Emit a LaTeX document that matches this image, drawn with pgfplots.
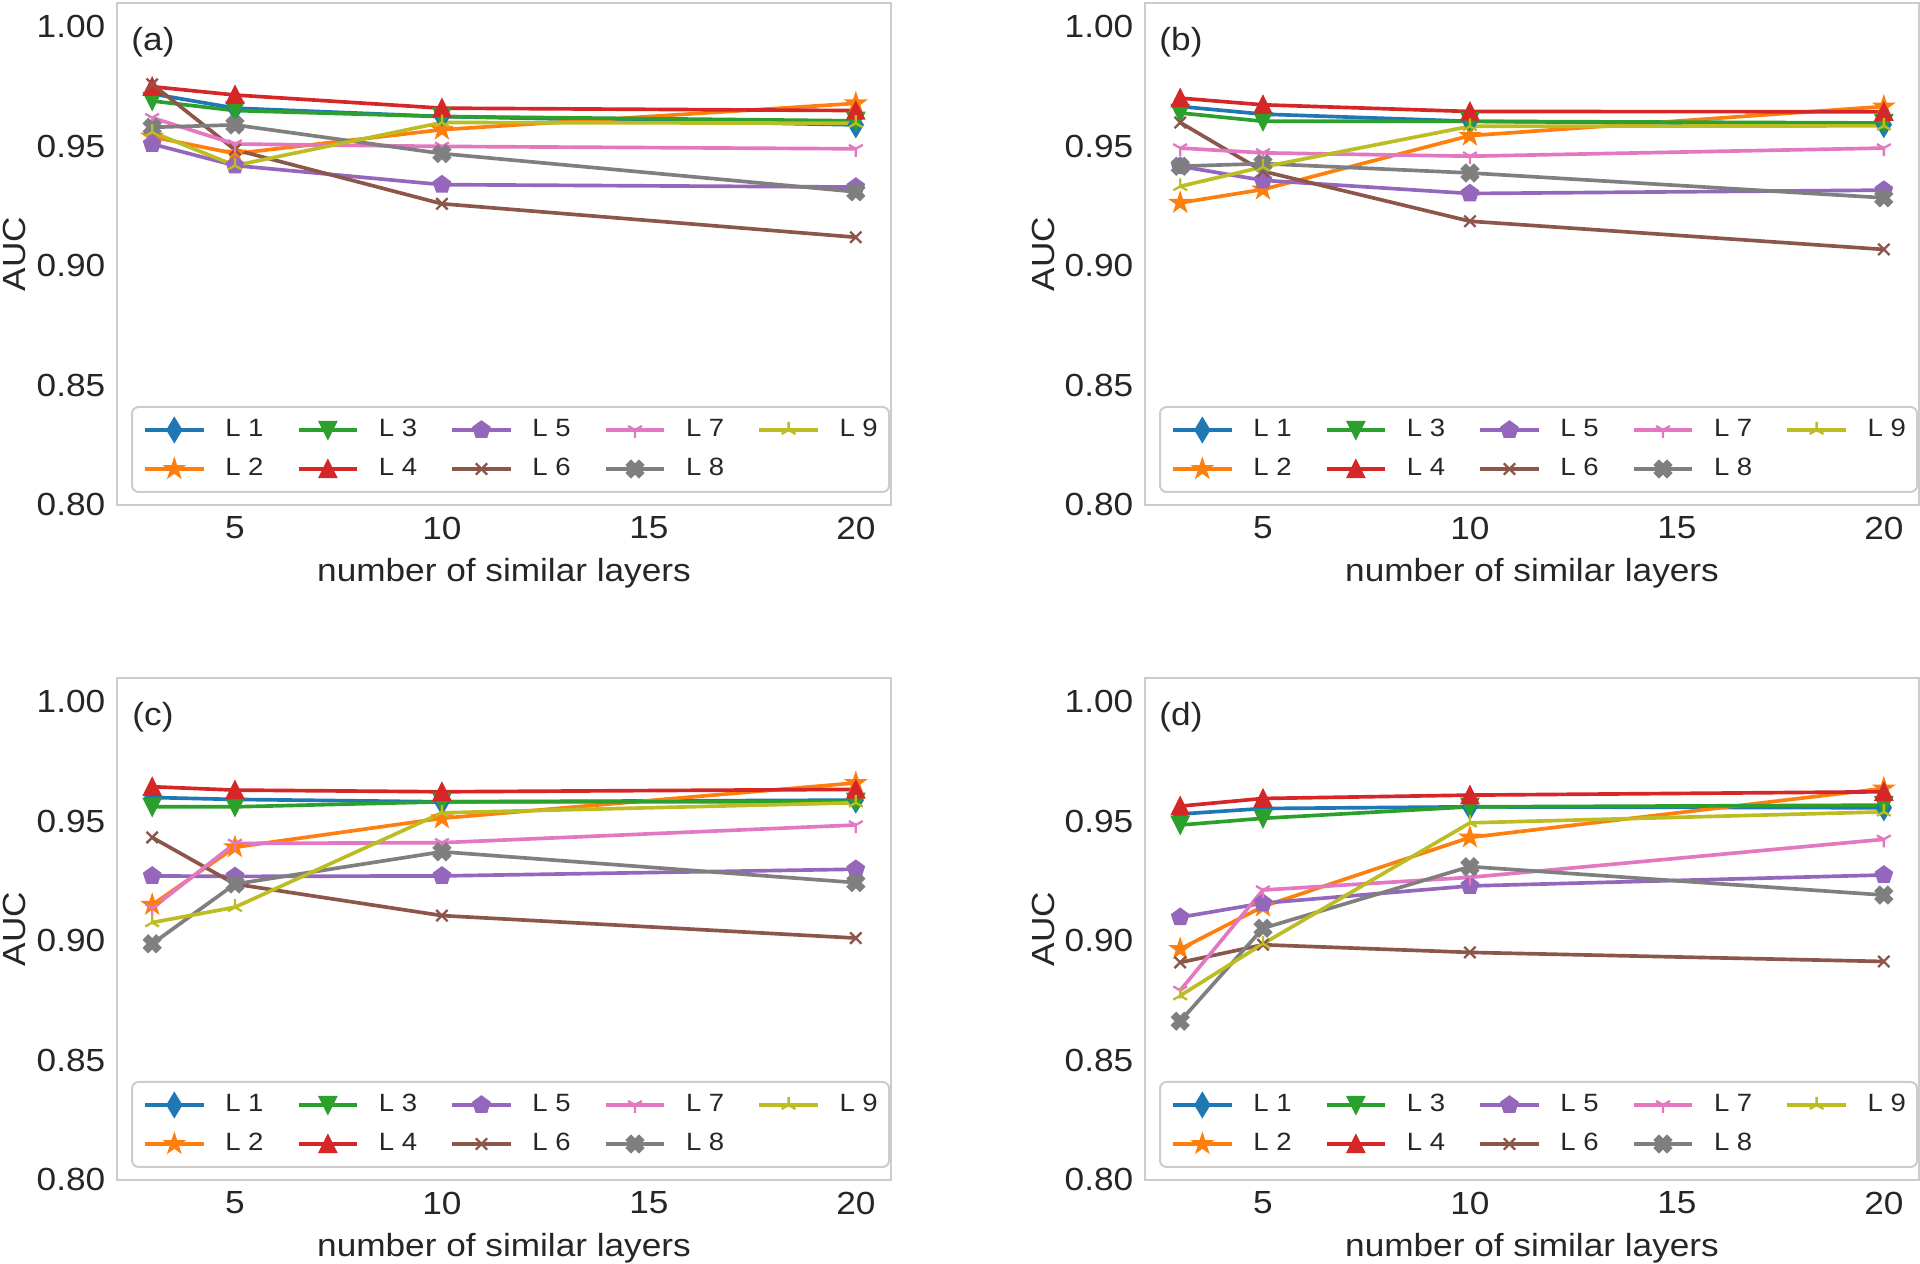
\documentclass[border=0pt]{standalone}
\usepackage{fontspec}
\setmainfont{Liberation Sans}[FakeStretch=1.1]
\usepackage{pgfplots}
\usepackage{pgfplotstable}
\pgfplotsset{compat=1.18}
\usetikzlibrary{plotmarks}

\definecolor{c1}{HTML}{1F77B4}
\definecolor{c2}{HTML}{FF7F0E}
\definecolor{c3}{HTML}{2CA02C}
\definecolor{c4}{HTML}{D62728}
\definecolor{c5}{HTML}{9467BD}
\definecolor{c6}{HTML}{8C564B}
\definecolor{c7}{HTML}{E377C2}
\definecolor{c8}{HTML}{7F7F7F}
\definecolor{c9}{HTML}{BCBD22}
\definecolor{textgray}{HTML}{262626}
\definecolor{framegray}{HTML}{CCCCCC}

% matplotlib-like markers
\pgfdeclareplotmark{mpld}{%
  \pgfpathmoveto{\pgfqpoint{0pt}{1.414\pgfplotmarksize}}%
  \pgfpathlineto{\pgfqpoint{0.85\pgfplotmarksize}{0pt}}%
  \pgfpathlineto{\pgfqpoint{0pt}{-1.414\pgfplotmarksize}}%
  \pgfpathlineto{\pgfqpoint{-0.85\pgfplotmarksize}{0pt}}%
  \pgfpathclose\pgfusepathqfillstroke}
\pgfdeclareplotmark{mplstar}{%
  \pgfpathmoveto{\pgfqpointpolar{90}{1.1\pgfplotmarksize}}%
  \pgfpathlineto{\pgfqpointpolar{126}{0.42\pgfplotmarksize}}%
  \pgfpathlineto{\pgfqpointpolar{162}{1.1\pgfplotmarksize}}%
  \pgfpathlineto{\pgfqpointpolar{198}{0.42\pgfplotmarksize}}%
  \pgfpathlineto{\pgfqpointpolar{234}{1.1\pgfplotmarksize}}%
  \pgfpathlineto{\pgfqpointpolar{270}{0.42\pgfplotmarksize}}%
  \pgfpathlineto{\pgfqpointpolar{306}{1.1\pgfplotmarksize}}%
  \pgfpathlineto{\pgfqpointpolar{342}{0.42\pgfplotmarksize}}%
  \pgfpathlineto{\pgfqpointpolar{18}{1.1\pgfplotmarksize}}%
  \pgfpathlineto{\pgfqpointpolar{54}{0.42\pgfplotmarksize}}%
  \pgfpathclose\pgfusepathqfillstroke}
\pgfdeclareplotmark{mpltriup}{%
  \pgfpathmoveto{\pgfqpoint{0pt}{\pgfplotmarksize}}%
  \pgfpathlineto{\pgfqpoint{-\pgfplotmarksize}{-\pgfplotmarksize}}%
  \pgfpathlineto{\pgfqpoint{\pgfplotmarksize}{-\pgfplotmarksize}}%
  \pgfpathclose\pgfusepathqfillstroke}
\pgfdeclareplotmark{mpltridown}{%
  \pgfpathmoveto{\pgfqpoint{0pt}{-\pgfplotmarksize}}%
  \pgfpathlineto{\pgfqpoint{-\pgfplotmarksize}{\pgfplotmarksize}}%
  \pgfpathlineto{\pgfqpoint{\pgfplotmarksize}{\pgfplotmarksize}}%
  \pgfpathclose\pgfusepathqfillstroke}
\pgfdeclareplotmark{mplpent}{%
  \pgfpathmoveto{\pgfqpointpolar{90}{1.05\pgfplotmarksize}}%
  \pgfpathlineto{\pgfqpointpolar{162}{1.05\pgfplotmarksize}}%
  \pgfpathlineto{\pgfqpointpolar{234}{1.05\pgfplotmarksize}}%
  \pgfpathlineto{\pgfqpointpolar{306}{1.05\pgfplotmarksize}}%
  \pgfpathlineto{\pgfqpointpolar{18}{1.05\pgfplotmarksize}}%
  \pgfpathclose\pgfusepathqfillstroke}
\pgfdeclareplotmark{mplX}{%
  \pgfpathmoveto{\pgfqpoint{-0.5\pgfplotmarksize}{-\pgfplotmarksize}}%
  \pgfpathlineto{\pgfqpoint{0pt}{-0.5\pgfplotmarksize}}%
  \pgfpathlineto{\pgfqpoint{0.5\pgfplotmarksize}{-\pgfplotmarksize}}%
  \pgfpathlineto{\pgfqpoint{\pgfplotmarksize}{-0.5\pgfplotmarksize}}%
  \pgfpathlineto{\pgfqpoint{0.5\pgfplotmarksize}{0pt}}%
  \pgfpathlineto{\pgfqpoint{\pgfplotmarksize}{0.5\pgfplotmarksize}}%
  \pgfpathlineto{\pgfqpoint{0.5\pgfplotmarksize}{\pgfplotmarksize}}%
  \pgfpathlineto{\pgfqpoint{0pt}{0.5\pgfplotmarksize}}%
  \pgfpathlineto{\pgfqpoint{-0.5\pgfplotmarksize}{\pgfplotmarksize}}%
  \pgfpathlineto{\pgfqpoint{-\pgfplotmarksize}{0.5\pgfplotmarksize}}%
  \pgfpathlineto{\pgfqpoint{-0.5\pgfplotmarksize}{0pt}}%
  \pgfpathlineto{\pgfqpoint{-\pgfplotmarksize}{-0.5\pgfplotmarksize}}%
  \pgfpathclose\pgfusepathqfillstroke}

% data: x, L1..L9
\pgfplotstableread{
x L1 L2 L3 L4 L5 L6 L7 L8 L9
3 0.972 0.954 0.969 0.975 0.951 0.976 0.962 0.958 0.956
5 0.966 0.947 0.965 0.9715 0.942 0.9486 0.951 0.959 0.942
10 0.9625 0.957 0.9625 0.966 0.934 0.926 0.950 0.947 0.960
20 0.959 0.968 0.9607 0.965 0.933 0.912 0.949 0.931 0.9597
}\tabA
\pgfplotstableread{
x L1 L2 L3 L4 L5 L6 L7 L8 L9
3 0.9667 0.9264 0.964 0.9702 0.9417 0.960 0.9493 0.9417 0.9333
5 0.9635 0.932 0.9605 0.9674 0.9358 0.9396 0.9473 0.9428 0.9414
10 0.9605 0.9545 0.9605 0.9646 0.9303 0.9187 0.9459 0.9389 0.9584
20 0.9591 0.9667 0.9598 0.9645 0.9317 0.9069 0.9493 0.9285 0.9586
}\tabB
\pgfplotstableread{
x L1 L2 L3 L4 L5 L6 L7 L8 L9
3 0.960 0.9151 0.9561 0.9645 0.9272 0.9433 0.9137 0.8988 0.9077
5 0.9592 0.9392 0.9561 0.9631 0.927 0.9238 0.9408 0.9238 0.9141
10 0.9582 0.9513 0.9582 0.9624 0.9272 0.9106 0.9411 0.9373 0.9536
20 0.9589 0.9661 0.9582 0.9634 0.930 0.9012 0.9485 0.9244 0.9578
}\tabC
\pgfplotstableread{
x L1 L2 L3 L4 L5 L6 L7 L8 L9
3 0.9531 0.8966 0.9485 0.9564 0.9099 0.891 0.8793 0.8664 0.8771
5 0.9554 0.9144 0.9513 0.9596 0.9158 0.8984 0.9213 0.9053 0.8988
10 0.9561 0.9433 0.9561 0.961 0.923 0.8952 0.9266 0.9311 0.9494
20 0.9557 0.9638 0.9568 0.9624 0.9276 0.8914 0.9425 0.9192 0.954
}\tabD

\newcommand\ticksize{\fontsize{9.6}{11}\selectfont}
\newcommand\legsize{\fontsize{7.5}{8.5}\selectfont}

\pgfplotsset{
  s1/.style={color=c1, mark=mpld},
  s2/.style={color=c2, mark=mplstar},
  s3/.style={color=c3, mark=mpltridown},
  s4/.style={color=c4, mark=mpltriup},
  s5/.style={color=c5, mark=mplpent},
  s6/.style={color=c6, mark=x},
  s7/.style={color=c7, mark=Mercedes star flipped},
  s8/.style={color=c8, mark=mplX},
  s9/.style={color=c9, mark=Mercedes star},
  panel/.style={
    scale only axis, width=232.2pt, height=150.6pt,
    anchor=south west,
    xmin=2.15, xmax=20.85, ymin=0.80, ymax=1.010,
    xtick={5,10,15,20}, ytick={0.80,0.85,0.90,0.95,1.00},
    yticklabel style={/pgf/number format/.cd, fixed, fixed zerofill, precision=2},
    /pgf/number format/assume math mode=true,
    major tick length=0pt,
    axis line style={draw=framegray, line width=0.85pt},
    tick label style={font=\ticksize, text=textgray},
    xlabel={number of similar layers}, ylabel={AUC},
    label style={font=\ticksize, text=textgray},
    x label style={at={(axis description cs:0.5,0)}, anchor=north, inner sep=0pt, yshift=-15.8pt},
    y label style={at={(axis description cs:-0.1318,0.5)}, anchor=center, inner sep=0pt},
    every axis plot/.append style={line width=1.1pt, mark size=2.4pt, mark options={solid, line width=0.7pt}},
    legend columns=5,
    legend cell align=left,
    legend image code/.code={\draw[mark repeat=2,mark phase=2] plot coordinates {(0pt,0pt)(8.75pt,0pt)(17.5pt,0pt)};},
    legend style={at={(axis description cs:0.0181,0.0239)}, anchor=south west,
      draw=framegray, fill=white, rounded corners=2pt, line width=0.6pt,
      font=\legsize, text=textgray, inner sep=3.4pt, row sep=4.7pt, column sep=6pt,
      /tikz/every even column/.append style={column sep=10pt},
      nodes={inner sep=0pt, text height=5.5pt, text depth=1.5pt}},
  },
}

\newcommand\drawpanel[4]{%
\begin{axis}[panel, at={(#3)}]
  \addplot[s1, forget plot] table[x=x, y=L1] {#1};
  \addplot[s2, forget plot] table[x=x, y=L2] {#1};
  \addplot[s3, forget plot] table[x=x, y=L3] {#1};
  \addplot[s4, forget plot] table[x=x, y=L4] {#1};
  \addplot[s5, forget plot] table[x=x, y=L5] {#1};
  \addplot[s6, forget plot] table[x=x, y=L6] {#1};
  \addplot[s7, forget plot] table[x=x, y=L7] {#1};
  \addplot[s8, forget plot] table[x=x, y=L8] {#1};
  \addplot[s9, forget plot] table[x=x, y=L9] {#1};
  \addlegendimage{s1}\addlegendentry{L 1}
  \addlegendimage{s3}\addlegendentry{L 3}
  \addlegendimage{s5}\addlegendentry{L 5}
  \addlegendimage{s7}\addlegendentry{L 7}
  \addlegendimage{s9}\addlegendentry{L 9}
  \addlegendimage{s2}\addlegendentry{L 2}
  \addlegendimage{s4}\addlegendentry{L 4}
  \addlegendimage{s6}\addlegendentry{L 6}
  \addlegendimage{s8}\addlegendentry{L 8}
  \node[font=\ticksize, text=textgray, inner sep=0pt] at (rel axis cs:0.0465,0.9223) {#2};
\end{axis}}

\begin{document}
\begin{tikzpicture}
\useasboundingbox (0,0) rectangle (576pt,379.2pt);
\drawpanel{\tabA}{(a)}{35.1pt,227.7pt}{}
\drawpanel{\tabB}{(b)}{343.5pt,227.7pt}{}
\drawpanel{\tabC}{(c)}{35.1pt,25.2pt}{}
\drawpanel{\tabD}{(d)}{343.5pt,25.2pt}{}
\end{tikzpicture}
\end{document}
